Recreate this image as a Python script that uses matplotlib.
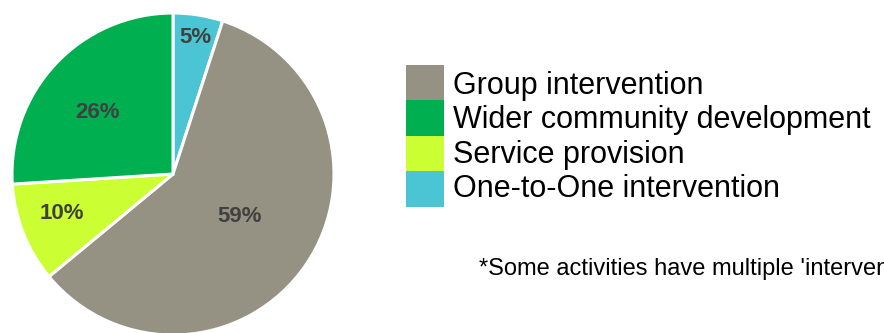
import matplotlib
matplotlib.use("Agg")
import matplotlib.pyplot as plt
from matplotlib.patches import Rectangle
import numpy as np

plt.rcParams['font.family'] = ['Liberation Sans', 'DejaVu Sans']

# Data (clockwise from top)
pie_labels = ["One-to-One intervention", "Group intervention", "Service provision", "Wider community development"]
pie_values = [5, 59, 10, 26]
pie_colors = ["#4BC5D4", "#959283", "#CCFF33", "#00AF50"]

legend_order = ["Group intervention", "Wider community development", "Service provision", "One-to-One intervention"]
footnote = "*Some activities have multiple 'intervention' types"

W, H = 884, 333
fig = plt.figure(figsize=(W / 100, H / 100), dpi=100)

# pie geometry in pixels
cx, cy, r = 173, 174, 161
ax = fig.add_axes([(cx - r) / W, (H - cy - r) / H, 2 * r / W, 2 * r / H])
wedges, _ = ax.pie(pie_values, colors=pie_colors, startangle=90, counterclock=False,
                   radius=1.0, wedgeprops=dict(edgecolor="white", linewidth=2.2))
ax.set_xlim(-1, 1)
ax.set_ylim(-1, 1)
ax.set_aspect("equal")
ax.axis("off")

label_radius = [0.87, 0.48, 0.73, 0.61]
label_shift = [0, 3, -3, 3]
total = sum(pie_values)
for w, v, rr, sh in zip(wedges, pie_values, label_radius, label_shift):
    ang = np.deg2rad((w.theta1 + w.theta2) / 2 + sh)
    ax.text(rr * np.cos(ang), rr * np.sin(ang) - 0.013, f"{round(100 * v / total)}%",
            ha="center", va="center", fontsize=16, fontweight="bold", color="#404040")

# legend (manual)
lx0, lw, ly0, lh = 406, 38, 65, 35.4
for i, name in enumerate(legend_order):
    col = pie_colors[pie_labels.index(name)]
    top = ly0 + i * lh
    fig.add_artist(Rectangle((lx0 / W, (H - top - lh) / H), lw / W, lh / H,
                             transform=fig.transFigure, facecolor=col, edgecolor="none"))
    fig.text(453 / W, (H - 94 - i * 34.25) / H, name, fontsize=22, color="black",
             ha="left", va="baseline")

fig.text(479 / W, (H - 275) / H, footnote, fontsize=17, color="black", ha="left", va="baseline")

fig.savefig("out.png", dpi=100, facecolor="white")
